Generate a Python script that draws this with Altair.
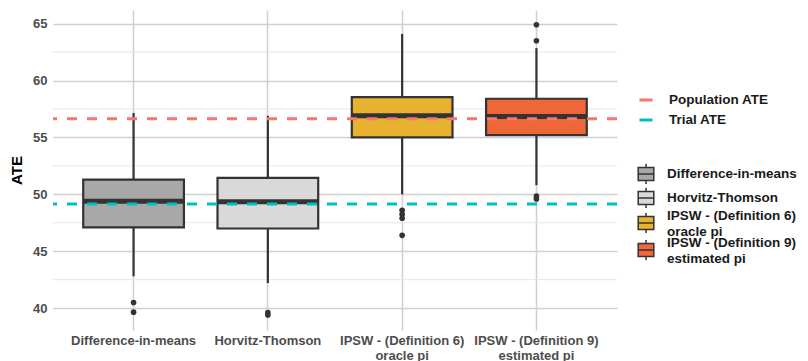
import altair as alt
import pandas as pd

methods = ["Difference-in-means", "Horvitz-Thomson",
           "IPSW - (Definition 6)\n\u00a0oracle pi", "IPSW - (Definition 9)\n\u00a0estimated pi"]
colors = ["#A8A8A8", "#D9D9D9", "#E8B130", "#EF6639"]
lower = [42.8, 42.2, 50.0, 50.8]
q1 = [47.1, 47.0, 55.0, 55.2]
median = [49.4, 49.35, 56.9, 56.85]
q3 = [51.3, 51.45, 58.55, 58.4]
upper = [57.15, 56.9, 64.1, 62.85]

out_method = [methods[0], methods[0], methods[1], methods[1],
              methods[2], methods[2], methods[2], methods[2],
              methods[3], methods[3], methods[3], methods[3]]
out_value = [40.5, 39.65, 39.6, 39.4,
             48.6, 48.25, 47.9, 46.4,
             64.9, 63.5, 49.85, 49.6]

ate_names = ["Population ATE", "Trial ATE"]
ate_values = [56.65, 49.15]
ate_colors = ["#F8766D", "#00BFC4"]

minor_grid = [42.5, 47.5, 52.5, 57.5, 62.5]
y_ticks = [40, 45, 50, 55, 60, 65]
y_domain = [38.08, 66.2]

box = pd.DataFrame({"method": methods, "lower": lower, "q1": q1, "median": median,
                    "q3": q3, "upper": upper})
outl = pd.DataFrame({"method": out_method, "value": out_value})
ate = pd.DataFrame({"line": ate_names, "value": ate_values})
minor = pd.DataFrame({"v": minor_grid})

yscale = alt.Scale(domain=y_domain, nice=False, zero=False)
xscale = alt.Scale(domain=methods, paddingInner=0, paddingOuter=0.1)
yaxis = alt.Axis(values=y_ticks, title="ATE")

X = alt.X("method:N", scale=xscale, sort=methods,
          axis=alt.Axis(labelExpr="split(datum.label, '\\n')", title=None, labelAngle=0,
                        bandPosition=0.5, grid=True, ticks=False, domain=False,
                        labelPadding=4, labelLimit=300, labelLineHeight=15))

glyph = "M-0.78,-0.66H0.78V0.66H-0.78Z M0,-1V-0.66 M0,0.66V1 M-0.78,0H0.78"

minor_layer = alt.Chart(minor).mark_rule(color="#E6E6E6", strokeWidth=1).encode(
    y=alt.Y("v:Q", scale=yscale, axis=yaxis))

whisk = alt.Chart(box).mark_rule(color="#333333", strokeWidth=2.2).encode(
    x=X, y=alt.Y("lower:Q", scale=yscale, axis=yaxis), y2="upper:Q")

boxes = alt.Chart(box).mark_bar(stroke="#333333", strokeWidth=2.2,
                                width=alt.RelativeBandSize(0.75)).encode(
    x=X, y=alt.Y("q1:Q", scale=yscale, axis=yaxis), y2="q3:Q",
    fill=alt.Fill("method:N", scale=alt.Scale(domain=methods, range=colors),
                  legend=alt.Legend(title=None, orient="none", legendX=582, legendY=153,
                                    symbolType=glyph, symbolSize=400,
                                    symbolStrokeColor="#333333", symbolStrokeWidth=1.5,
                                    labelExpr="split(datum.label, '\\n')",
                                    labelFontSize=13.5, labelFontWeight="bold",
                                    labelColor="#1A1A1A", labelOffset=10,
                                    labelBaseline=alt.ExprRef(
                                        "indexof(datum.value, 'IPSW') >= 0 ? 'bottom' : 'middle'"),
                                    gridAlign="none",
                                    labelFont="Liberation Sans", labelLimit=300,
                                    rowPadding=-2, padding=0)))

med = alt.Chart(box).mark_tick(color="#333333", thickness=5, size=101, opacity=1).encode(
    x=X, y=alt.Y("median:Q", scale=yscale, axis=yaxis))

pts = alt.Chart(outl).mark_circle(color="#333333", size=32, opacity=1).encode(
    x=X, y=alt.Y("value:Q", scale=yscale, axis=yaxis))

lines = alt.Chart(ate).mark_rule(strokeWidth=3, strokeDash=[10, 10]).encode(
    y=alt.Y("value:Q", scale=yscale, axis=yaxis),
    stroke=alt.Stroke("line:N", scale=alt.Scale(domain=ate_names, range=ate_colors),
                      legend=alt.Legend(title=None, orient="none", legendX=585, legendY=82,
                                        symbolType="stroke", symbolSize=169,
                                        symbolStrokeWidth=3, symbolDash=[1, 0],
                                        labelFontSize=13.5, labelFontWeight="bold",
                                        labelColor="#1A1A1A", labelOffset=15,
                                        labelFont="Liberation Sans",
                                        rowPadding=5, padding=0)))

chart = alt.layer(minor_layer, whisk, boxes, med, pts, lines).properties(
    width=564, height=320,
    autosize=alt.AutoSizeParams(type="none"),
    padding={"left": 45, "top": 2, "right": 183, "bottom": 34},
).configure_view(stroke=None).configure_axis(
    labelFont="Liberation Sans", labelFontSize=13, labelFontWeight="bold",
    labelColor="#4D4D4D", titleFont="Liberation Sans", titleFontSize=15,
    titleFontWeight="bold", titleColor="#000000",
    gridColor="#D0D0D0", gridWidth=1.5,
).configure_axisY(ticks=False, domain=False, labelPadding=6, titlePadding=8)

chart.save("out.html", embed_options={"renderer": "svg", "actions": False})
